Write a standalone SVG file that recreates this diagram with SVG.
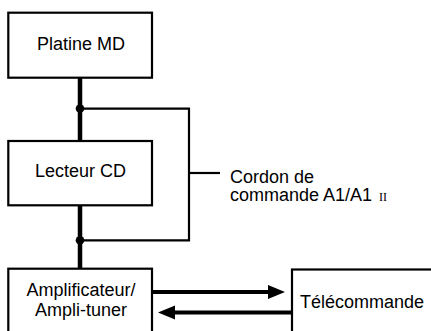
<svg xmlns="http://www.w3.org/2000/svg" width="431" height="331" viewBox="0 0 431 331">
<style>
.box{fill:#fff;stroke:#000;stroke-width:2.2}
.t{font-family:"Liberation Sans",Arial,sans-serif;font-size:18px;fill:#000}
.thick{stroke:#000;stroke-width:4.5;fill:none}
.thin{stroke:#000;stroke-width:2.2;fill:none}
.arr{stroke:#000;stroke-width:4;fill:none}
</style>
<rect width="431" height="331" fill="#fff"/>
<g id="connectors">
<line class="thick" x1="80" y1="78" x2="80" y2="141"/>
<line class="thick" x1="80" y1="205" x2="80" y2="269"/>
<polyline class="thin" points="80,108.7 189,108.7 189,240.3 80,240.3"/>
<line class="thin" x1="189" y1="173" x2="220" y2="173"/>
<circle cx="80" cy="108.5" r="4.3" fill="#000"/>
<circle cx="80" cy="240.3" r="4.3" fill="#000"/>
<line class="arr" x1="153" y1="292" x2="270" y2="292"/>
<polygon points="285,292 268,285 268,299" fill="#000"/>
<line class="arr" x1="292" y1="312.5" x2="173" y2="312.5"/>
<polygon points="158,312.5 175,305.5 175,319.5" fill="#000"/>
</g>
<g id="platine">
<rect class="box" x="8.3" y="12.7" width="143.7" height="65"/>
<text class="t" x="81" y="49.5" text-anchor="middle">Platine MD</text>
</g>
<g id="lecteur">
<rect class="box" x="8.3" y="141" width="143.7" height="64.3"/>
<text class="t" x="80.5" y="177" text-anchor="middle">Lecteur CD</text>
</g>
<g id="ampli">
<rect class="box" x="8.3" y="268.7" width="143.7" height="80"/>
<text class="t" x="81" y="295.5" text-anchor="middle">Amplificateur/</text>
<text class="t" x="81" y="315.5" text-anchor="middle">Ampli-tuner</text>
</g>
<g id="telecommande">
<rect class="box" x="292" y="269.5" width="160" height="80"/>
<text class="t" x="300" y="308">Télécommande</text>
</g>
<g id="cordon">
<text class="t" x="230" y="182.5">Cordon de</text>
<text class="t" x="230" y="201">commande A1/A1<tspan x="379" style="font-family:'Liberation Serif','Times New Roman',serif;font-size:12px">II</tspan></text>
</g>
</svg>
